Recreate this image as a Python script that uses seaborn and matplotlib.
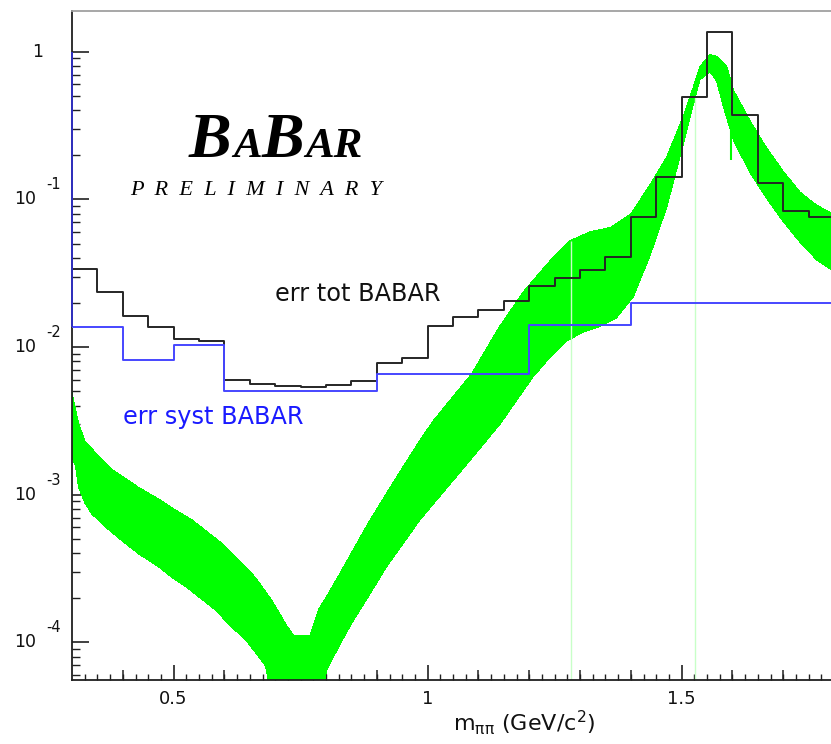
import numpy as np
import matplotlib
matplotlib.use("Agg")
import matplotlib.pyplot as plt
import seaborn as sns

# ---- data -------------------------------------------------------------
# total error (BABAR), 0.05 GeV bins
tot_edges = [0.30, 0.35, 0.40, 0.45, 0.50, 0.55, 0.60, 0.65, 0.70, 0.75,
             0.80, 0.85, 0.90, 0.95, 1.00, 1.05, 1.10, 1.15, 1.20, 1.25,
             1.30, 1.35, 1.40, 1.45, 1.50, 1.55, 1.60, 1.65, 1.70, 1.75, 1.80]
tot_err = [0.0336, 0.0235, 0.0161, 0.01375, 0.01135, 0.0110, 0.00598, 0.00562,
           0.00548, 0.00540, 0.00554, 0.00592, 0.00776, 0.0084, 0.0138, 0.0159,
           0.0179, 0.0204, 0.0258, 0.0292, 0.0333, 0.0410, 0.0764, 0.1425,
           0.491, 1.353, 0.373, 0.1285, 0.0838, 0.0756]

# systematic error (BABAR), coarse bins
syst_edges = [0.30, 0.40, 0.50, 0.60, 0.90, 1.20, 1.40, 1.80]
syst_err = [0.01375, 0.00818, 0.01033, 0.00504, 0.00654, 0.0140, 0.0198]
syst_left_top = 1.0

# prediction band: upper edge
band_hi_m = [0.300, 0.313, 0.326, 0.353, 0.379, 0.405, 0.431, 0.471, 0.497, 0.536,
             0.562, 0.595, 0.628, 0.661, 0.694, 0.723, 0.736, 0.769, 0.785, 0.801,
             0.828, 0.854, 0.887, 0.919, 0.952, 0.985, 1.011, 1.087, 1.140, 1.190,
             1.240, 1.280, 1.320, 1.360, 1.400, 1.438, 1.471, 1.503, 1.523, 1.536,
             1.556, 1.569, 1.589, 1.602, 1.635, 1.667, 1.700, 1.733, 1.766, 1.800]
band_hi = [0.00490, 0.00302, 0.00229, 0.00182, 0.00148, 0.00129, 0.00112, 0.000933,
           0.000813, 0.000676, 0.000575, 0.000468, 0.000363, 0.000275, 0.000191,
           0.000129, 0.000112, 0.000112, 0.000166, 0.000204, 0.000295, 0.000427,
           0.000676, 0.00102, 0.00155, 0.00234, 0.00316, 0.00661, 0.0135, 0.0240,
           0.0380, 0.0525, 0.0603, 0.0646, 0.0794, 0.126, 0.195, 0.363, 0.575, 0.794,
           0.955, 0.933, 0.794, 0.550, 0.339, 0.224, 0.155, 0.112, 0.0912, 0.0794]

# prediction band: lower edge
band_lo_m = [0.300, 0.307, 0.313, 0.326, 0.339, 0.366, 0.405, 0.431, 0.471, 0.497,
             0.523, 0.549, 0.582, 0.615, 0.641, 0.668, 0.681, 0.694, 0.790, 0.801,
             0.828, 0.854, 0.887, 0.919, 0.952, 0.985, 1.083, 1.143, 1.208, 1.241,
             1.274, 1.306, 1.339, 1.372, 1.405, 1.438, 1.471, 1.503, 1.523, 1.536,
             1.556, 1.569, 1.582, 1.602, 1.635, 1.667, 1.700, 1.733, 1.766, 1.800]
band_lo = [0.00182, 0.00155, 0.00112, 0.000871, 0.000741, 0.000603, 0.000468,
           0.000398, 0.000324, 0.000275, 0.000240, 0.000204, 0.000166, 0.000126,
           0.000105, 0.0000794, 0.0000692, 0.0000398, 0.0000398, 0.0000646,
           0.0000977, 0.000141, 0.000214, 0.000324, 0.000468, 0.000676, 0.00170,
           0.00302, 0.00631, 0.00851, 0.0110, 0.0126, 0.0138, 0.0158, 0.0219,
           0.0417, 0.0891, 0.234, 0.437, 0.646, 0.733, 0.631, 0.427, 0.251, 0.151,
           0.102, 0.0708, 0.0513, 0.0389, 0.0324]

# faint vertical lines through the band and a narrow spike
guide_m = [1.282, 1.526]
guide_top = [0.0525, 0.50]
spike_m = [1.598]
spike_lo = [0.185]
spike_hi = [0.30]

y_decades = [1, 0.1, 0.01, 0.001, 0.0001]
y_exponents = ["", "-1", "-2", "-3", "-4"]

# ---- style ------------------------------------------------------------
sns.set_style("white")
plt.rcParams["font.family"] = ["DejaVu Sans"]
plt.rcParams["mathtext.fontset"] = "dejavusans"
plt.rcParams["text.color"] = "#111111"

W, H = 831, 744
fig = plt.figure(figsize=(W / 100, H / 100), dpi=100)
ax = fig.add_axes([72 / W, 1 - 680 / H, 762 / W, 669 / H])

GREEN = "#00ff00"
BLACK = "#262626"
BLUE = "#4646ff"
AXC = "#202020"

# band
ax.fill(np.concatenate([band_hi_m, band_lo_m[::-1]]),
        np.concatenate([band_hi, band_lo[::-1]]),
        color=GREEN, lw=0, zorder=1, antialiased=False)

ylo, yhi = 5.56e-5, 1.887
ax.vlines(guide_m, ylo, guide_top, color="#c8ffc8", lw=1.0, zorder=1.5)
ax.vlines(spike_m, spike_lo, spike_hi, color=GREEN, lw=1.5, zorder=1.2)

# histograms
sns.lineplot(x=tot_edges, y=tot_err + [tot_err[-1]], drawstyle="steps-post",
             estimator=None, sort=False, color=BLACK, lw=1.4, ax=ax, zorder=3)
sns.lineplot(x=syst_edges, y=syst_err + [syst_err[-1]], drawstyle="steps-post",
             estimator=None, sort=False, color=BLUE, lw=1.4, ax=ax, zorder=3)
ax.vlines(syst_edges[0], syst_err[0], syst_left_top, color="#3030c0", lw=1.4,
          zorder=3, clip_on=False)

ax.set_yscale("log")
ax.set_xlim(0.3, 1.8)
ax.set_ylim(ylo, yhi)

# ---- axes decoration ---------------------------------------------------
for side in ("left", "bottom"):
    ax.spines[side].set_color(AXC)
    ax.spines[side].set_linewidth(1.3)
ax.spines["top"].set_color("#a0a0a0")
ax.spines["top"].set_linewidth(1.3)
ax.spines["right"].set_visible(False)

ax.set_xticks([0.5, 1.0, 1.5])
ax.set_xticklabels(["0.5", "1", "1.5"])
ax.set_xticks(np.arange(0.325, 1.8, 0.025), minor=True)
ax.tick_params(axis="x", which="major", bottom=True, direction="in", length=11,
               width=1.2, color=AXC, labelsize=13, labelcolor="#111111", pad=7)
ax.tick_params(axis="x", which="minor", bottom=True, direction="in", length=4,
               width=1.0, color=AXC)
sec = ax.secondary_xaxis("bottom")
sec.set_xticks([0.4, 0.6, 0.7, 0.8, 0.9, 1.1, 1.2, 1.3, 1.4, 1.6, 1.7])
sec.set_xticklabels([])
sec.tick_params(bottom=True, direction="in", length=7, width=1.1, color=AXC)
sec.spines["bottom"].set_visible(False)

ax.yaxis.set_major_locator(matplotlib.ticker.FixedLocator(y_decades))
ax.yaxis.set_minor_locator(matplotlib.ticker.LogLocator(base=10, subs=np.arange(2, 10)))
ax.yaxis.set_minor_formatter(matplotlib.ticker.NullFormatter())
ax.tick_params(axis="y", which="major", left=True, direction="in", length=12,
               width=1.2, color=AXC, labelleft=False)
ax.tick_params(axis="y", which="minor", left=True, direction="in", length=6,
               width=1.0, color=AXC)

ytrans = ax.get_yaxis_transform()
for v, e in zip(y_decades, y_exponents):
    if e == "":
        ax.annotate("1", xy=(0, v), xycoords=ytrans, xytext=(-21, 0),
                    textcoords="offset points", ha="right", va="center",
                    fontsize=12.5)
    else:
        ax.annotate("10", xy=(0, v), xycoords=ytrans, xytext=(-25.5, 0),
                    textcoords="offset points", ha="right", va="center",
                    fontsize=12.5)
        ax.annotate(e, xy=(0, v), xycoords=ytrans, xytext=(-18.5, 10.5),
                    textcoords="offset points", ha="left", va="center",
                    fontsize=10.5)

ax.text((453 - 72) / 762, (680 - 731) / 669, r"m$_{\mathrm{ππ}}$ (GeV/c$^{2}$)",
        transform=ax.transAxes, ha="left", va="baseline", fontsize=16)

# ---- annotations -------------------------------------------------------
ax.text(0.70, 0.0204, "err tot BABAR", color="#111111", fontsize=17.3,
        ha="left", va="baseline")
ax.text(0.401, 0.00302, "err syst BABAR", color="#1a1aff", fontsize=17.3,
        ha="left", va="baseline")

logo_font = dict(family="Liberation Serif", style="italic", weight="bold",
                 color="black", va="baseline", ha="left", transform=ax.transAxes)
base_y = (680 - 156.7) / 669
for ch, px, size in [("B", 189, 46), ("A", 233, 31), ("B", 262, 46),
                     ("AR", 305, 31)]:
    ax.text((px - 72) / 762, base_y, ch, fontsize=size, **logo_font)

ax.text((130 - 72) / 762, (680 - 195) / 669, "P  R  E  L  I  M  I  N  A  R  Y",
        family="Liberation Serif", style="italic", fontsize=16, color="black",
        ha="left", va="baseline", transform=ax.transAxes)

fig.savefig("out.png", dpi=100)
